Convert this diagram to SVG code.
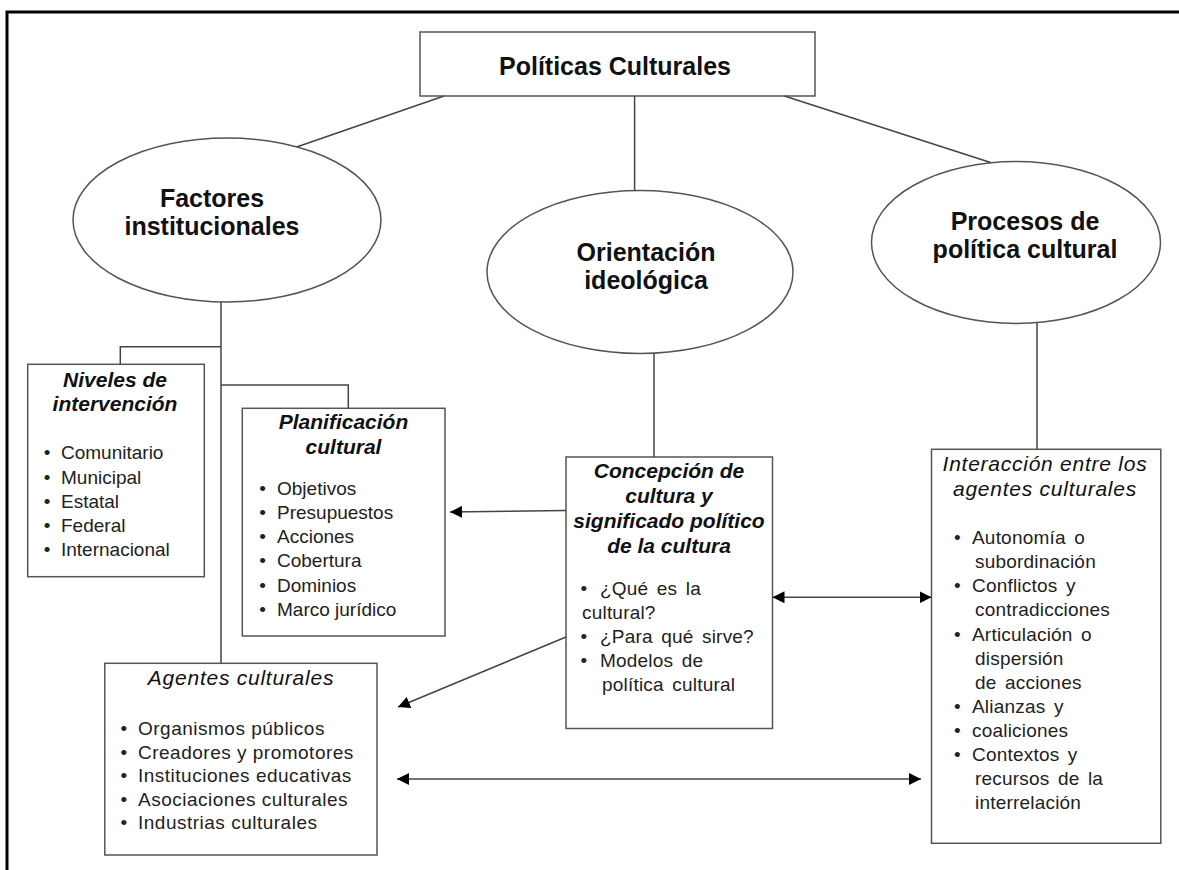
<svg xmlns="http://www.w3.org/2000/svg" width="1179" height="870" viewBox="0 0 1179 870">
<style>
.box{fill:#fff;stroke:#555;stroke-width:1.5}
.ln{fill:none;stroke:#444;stroke-width:1.5}
.h{font-family:"Liberation Sans",Arial,sans-serif;font-weight:bold;font-size:25px;fill:#111;text-anchor:middle}
.t{font-family:"Liberation Sans",Arial,sans-serif;font-weight:bold;font-style:italic;font-size:21px;fill:#111;text-anchor:middle}
.ti{font-family:"Liberation Sans",Arial,sans-serif;font-style:italic;font-size:21px;letter-spacing:0.75px;fill:#111;text-anchor:middle}
.it{font-family:"Liberation Sans",Arial,sans-serif;font-size:19px;fill:#222}
.w{word-spacing:3px;letter-spacing:0.2px}
.ag{letter-spacing:0.5px}
.b{text-anchor:middle}
</style>
<defs>
<marker id="ah" viewBox="0 0 12 12" refX="12" refY="6" markerWidth="12" markerHeight="12" markerUnits="userSpaceOnUse" orient="auto-start-reverse"><path d="M0,0 L12,6 L0,12 z" fill="#000"/></marker>
</defs>
<rect x="0" y="0" width="1179" height="870" fill="#fff"/>
<path d="M7,875 V12 H1185" fill="none" stroke="#000" stroke-width="3"/>

<g id="politicas">
<rect class="box" x="420" y="32" width="395" height="64"/>
<text class="h" x="615" y="75">Políticas Culturales</text>
</g>

<g id="factores">
<ellipse class="box" cx="227" cy="220" rx="154" ry="82"/>
<text class="h" x="212" y="207">Factores</text>
<text class="h" x="212" y="235">institucionales</text>
</g>

<g id="orientacion">
<ellipse class="box" cx="640" cy="272" rx="153" ry="81.5"/>
<text class="h" x="646" y="261">Orientación</text>
<text class="h" x="646" y="289">ideológica</text>
</g>

<g id="procesos">
<ellipse class="box" cx="1016" cy="242.5" rx="144.5" ry="81"/>
<text class="h" x="1025" y="230">Procesos de</text>
<text class="h" x="1025" y="258">política cultural</text>
</g>

<g id="niveles">
<rect class="box" x="27.7" y="364.3" width="176.6" height="212.4"/>
<text class="t" x="115" y="387">Niveles de</text>
<text class="t" x="115" y="411">intervención</text>
<g class="it">
<text class="b" x="47" y="459">•</text><text x="61" y="459">Comunitario</text>
<text class="b" x="47" y="483.5">•</text><text x="61" y="483.5">Municipal</text>
<text class="b" x="47" y="507.5">•</text><text x="61" y="507.5">Estatal</text>
<text class="b" x="47" y="532">•</text><text x="61" y="532">Federal</text>
<text class="b" x="47" y="556">•</text><text x="61" y="556">Internacional</text>
</g>
</g>

<g id="planificacion">
<rect class="box" x="242.3" y="408.3" width="202.7" height="227.7"/>
<text class="t" x="343.5" y="428.5">Planificación</text>
<text class="t" x="343.5" y="453.5">cultural</text>
<g class="it">
<text class="b" x="262.5" y="495">•</text><text x="277" y="495">Objetivos</text>
<text class="b" x="262.5" y="519.3">•</text><text x="277" y="519.3">Presupuestos</text>
<text class="b" x="262.5" y="543.3">•</text><text x="277" y="543.3">Acciones</text>
<text class="b" x="262.5" y="567.3">•</text><text x="277" y="567.3">Cobertura</text>
<text class="b" x="262.5" y="591.7">•</text><text x="277" y="591.7">Dominios</text>
<text class="b" x="262.5" y="616">•</text><text x="277" y="616">Marco jurídico</text>
</g>
</g>

<g id="concepcion">
<rect class="box" x="566" y="457" width="206.5" height="271.5"/>
<text class="t" x="669" y="477.5">Concepción de</text>
<text class="t" x="669" y="502.5">cultura y</text>
<text class="t" x="669" y="527.5">significado político</text>
<text class="t" x="669" y="552.5">de la cultura</text>
<g class="it w">
<text class="b" x="584" y="595">•</text><text x="600" y="595">¿Qué es la</text>
<text x="582" y="618.5">cultural?</text>
<text class="b" x="584" y="643.3">•</text><text x="600" y="643.3">¿Para qué sirve?</text>
<text class="b" x="584" y="666.7">•</text><text x="600" y="666.7">Modelos de</text>
<text x="602" y="690.7">política cultural</text>
</g>
</g>

<g id="interaccion">
<rect class="box" x="931.5" y="449.3" width="229.3" height="394"/>
<text class="ti" x="1045" y="471">Interacción entre los</text>
<text class="ti" x="1045" y="495.5">agentes culturales</text>
<g class="it w">
<text class="b" x="957.5" y="544">•</text><text x="972" y="544">Autonomía o</text>
<text x="975" y="568.3">subordinación</text>
<text class="b" x="957.5" y="592.3">•</text><text x="972" y="592.3">Conflictos y</text>
<text x="975" y="616">contradicciones</text>
<text class="b" x="957.5" y="640.7">•</text><text x="972" y="640.7">Articulación o</text>
<text x="975" y="665">dispersión</text>
<text x="975" y="688.5">de acciones</text>
<text class="b" x="957.5" y="712.7">•</text><text x="972" y="712.7">Alianzas y</text>
<text class="b" x="957.5" y="736.7">•</text><text x="972" y="736.7">coaliciones</text>
<text class="b" x="957.5" y="761">•</text><text x="972" y="761">Contextos y</text>
<text x="975" y="784.5">recursos de la</text>
<text x="975" y="808.5">interrelación</text>
</g>
</g>

<g id="agentes">
<rect class="box" x="104.8" y="663.3" width="272.2" height="191.7"/>
<text class="ti" x="241" y="685">Agentes culturales</text>
<g class="it ag">
<text class="b" x="124" y="735">•</text><text x="138" y="735">Organismos públicos</text>
<text class="b" x="124" y="758.5">•</text><text x="138" y="758.5">Creadores y promotores</text>
<text class="b" x="124" y="782">•</text><text x="138" y="782">Instituciones educativas</text>
<text class="b" x="124" y="805.5">•</text><text x="138" y="805.5">Asociaciones culturales</text>
<text class="b" x="124" y="829">•</text><text x="138" y="829">Industrias culturales</text>
</g>
</g>

<g id="connectors">
<line class="ln" x1="444" y1="96" x2="296.6" y2="147"/>
<line class="ln" x1="634.6" y1="96" x2="634.6" y2="190.7"/>
<line class="ln" x1="784.4" y1="96" x2="990.6" y2="162.5"/>
<line class="ln" x1="221" y1="302" x2="221" y2="663.3"/>
<path class="ln" d="M221,346.7 H120.3 V364.3"/>
<path class="ln" d="M221,385 H348.3 V408.3"/>
<line class="ln" x1="654" y1="353.3" x2="654" y2="457"/>
<line class="ln" x1="1037" y1="322.6" x2="1037" y2="449.3"/>
<line class="ln" x1="566" y1="510.5" x2="450" y2="512" marker-end="url(#ah)"/>
<line class="ln" x1="566" y1="637" x2="398" y2="707" marker-end="url(#ah)"/>
<line class="ln" x1="772.5" y1="597.3" x2="931.5" y2="597.3" marker-start="url(#ah)" marker-end="url(#ah)"/>
<line class="ln" x1="397" y1="779" x2="921" y2="779" marker-start="url(#ah)" marker-end="url(#ah)"/>
</g>
</svg>
